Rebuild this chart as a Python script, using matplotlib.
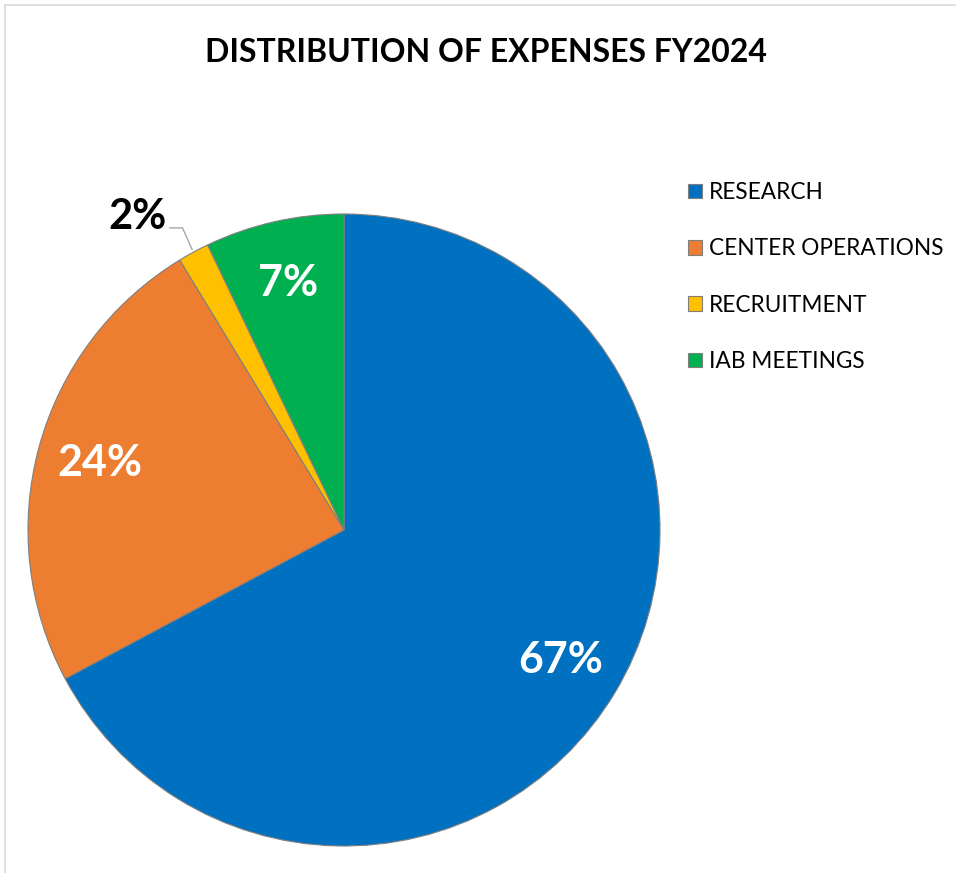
import matplotlib.pyplot as plt
import numpy as np
from matplotlib.patches import Rectangle

# expense shares (percent)
categories = ['RESEARCH', 'CENTER OPERATIONS', 'RECRUITMENT', 'IAB MEETINGS']
shares = [67.2, 24.1, 1.6, 7.1]
colors = ['#0070C0', '#ED7D31', '#FFC000', '#00B050']

W, H = 956, 873
plt.rcParams['font.family'] = ['Lato', 'DejaVu Sans']

fig = plt.figure(figsize=(W / 100, H / 100), dpi=100)

# light chart-area border
fig.patches.append(Rectangle((5 / W, -0.1), 1.2, (H - 5) / H + 0.1,
                             transform=fig.transFigure, fill=False,
                             edgecolor='#d9d9d9', linewidth=1.2))

# pie centre ~ (344, 530) px, radius ~ 316 px
cx, cy, r = 344, H - 530, 316
ax = fig.add_axes([(cx - r) / W, (cy - r) / H, 2 * r / W, 2 * r / H])

wedges, texts, autotexts = ax.pie(
    shares, colors=colors, startangle=90, counterclock=False,
    autopct='%1.0f%%', pctdistance=0.8,
    wedgeprops=dict(edgecolor='#7f7f7f', linewidth=0.8),
    textprops=dict(color='white', fontsize=31, fontweight='bold'))
ax.set_xlim(-1, 1)
ax.set_ylim(-1, 1)
ax.set_aspect('equal')

# small slice: label goes outside with a leader line
small = autotexts[2]
small.set_visible(False)
w = wedges[2]
mid = np.deg2rad((w.theta1 + w.theta2) / 2)
ex, ey = 1.01 * np.cos(mid), 1.01 * np.sin(mid)
kx, ky = ex - 0.03, 0.956
ax.plot([kx - 0.04, kx, ex], [ky, ky, ey], color='#a6a6a6', lw=1,
        clip_on=False)
ax.text(kx - 0.05, ky + 0.035, small.get_text(), ha='right', va='center',
        fontsize=30, fontweight='bold', color='black')

fig.text(486 / W, 1 - 52 / H, 'DISTRIBUTION OF EXPENSES FY2024',
         ha='center', va='center', fontsize=23, fontweight='bold')

fig.legend(wedges, categories, loc='upper left',
           bbox_to_anchor=(688 / W, 1 - 182 / H), frameon=False,
           fontsize=16.3, handlelength=0.62, handleheight=0.62,
           handletextpad=0.3, labelspacing=1.56, borderpad=0,
           borderaxespad=0)

fig.savefig('out.png', dpi=100)
